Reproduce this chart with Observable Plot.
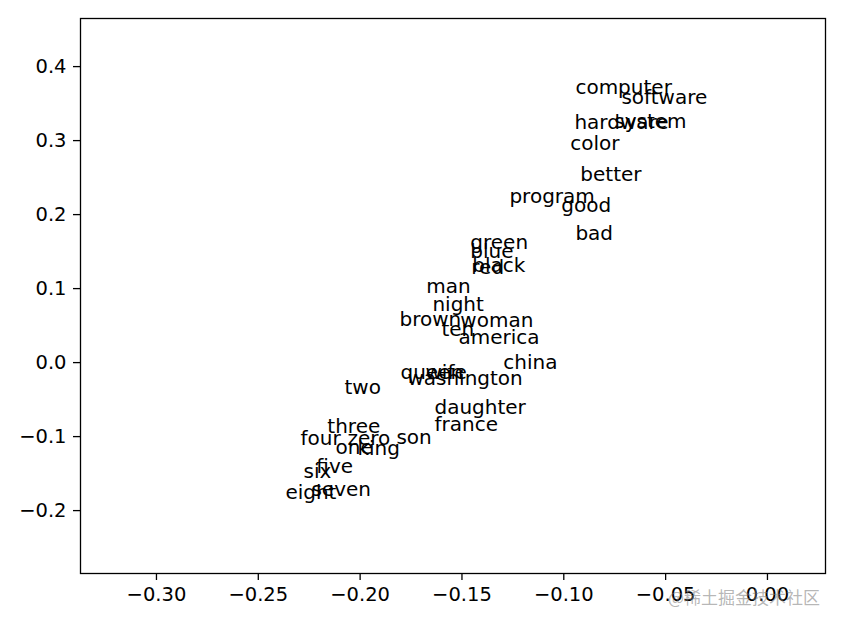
<!DOCTYPE html>
<html>
<head>
<meta charset="utf-8">
<script src="https://cdn.jsdelivr.net/npm/d3@7"></script>
<script src="https://cdn.jsdelivr.net/npm/@observablehq/plot@0.6"></script>
<style>
  body { margin: 0; background: #fff; }
  #wrap { position: relative; width: 843px; height: 624px; background: #fff; }
  #wm { position: absolute; left: 668px; top: 584px; font-family: "Noto Sans CJK SC", sans-serif; font-size: 17px; color: rgba(120,120,120,0.55); white-space: nowrap; }
</style>
</head>
<body>
<div id="wrap"><div id="wm">@稀土掘金技术社区</div></div>
<script>
const words = ["computer","software","hardware","system","color","better","program","good","bad",
  "green","blue","black","red","man","night","brown","woman","ten","america","china",
  "queen","wife","washington","two","daughter","france","three","four","zero","son",
  "one","king","five","six","seven","eight"];
const xs = [-0.0943,-0.0717,-0.0948,-0.0752,-0.0968,-0.0919,-0.1267,-0.1012,-0.0943,
  -0.1459,-0.1459,-0.1449,-0.1454,-0.1675,-0.1645,-0.1807,-0.1508,-0.1601,-0.1517,-0.1297,
  -0.1802,-0.1679,-0.1768,-0.2077,-0.1635,-0.1635,-0.2161,-0.2293,-0.2062,-0.1822,
  -0.2121,-0.2013,-0.2215,-0.2278,-0.2239,-0.2367];
const ys = [0.3608,0.3473,0.3135,0.3149,0.2851,0.2432,0.2135,0.2014,0.1635,
  0.1514,0.1392,0.1203,0.1176,0.0919,0.0676,0.0473,0.0459,0.0338,0.0230,-0.0108,
  -0.0243,-0.0243,-0.0324,-0.0446,-0.0716,-0.0946,-0.0973,-0.1135,-0.1135,-0.1122,
  -0.1257,-0.1270,-0.1514,-0.1581,-0.1824,-0.1865];
const xTicks = [-0.30,-0.25,-0.20,-0.15,-0.10,-0.05,0.00];
const yTicks = [-0.2,-0.1,0.0,0.1,0.2,0.3,0.4];
const xDomain = [-0.3373, 0.0285];
const yDomain = [-0.285, 0.465];

const data = words.map((w, i) => ({word: w, x: xs[i], y: ys[i]}));

const chart = Plot.plot({
  width: 843,
  height: 624,
  marginLeft: 80,
  marginRight: 18,
  marginTop: 18,
  marginBottom: 51,
  style: {fontFamily: "DejaVu Sans", fontSize: "19.5px", color: "#000", background: "#fff"},
  x: {domain: xDomain, label: null},
  y: {domain: yDomain, label: null},
  marks: [
    Plot.frame({stroke: "#000", strokeWidth: 1.3}),
    Plot.axisX({ticks: xTicks, tickFormat: d3.format(".2f"), tickSize: 7, tickPadding: 7, strokeWidth: 1.3, label: null, fontSize: 19.5}),
    Plot.axisY({ticks: yTicks, tickFormat: d3.format(".1f"), tickSize: 7, tickPadding: 7, strokeWidth: 1.3, label: null, fontSize: 19.5}),
    Plot.text(data, {x: "x", y: "y", text: "word", textAnchor: "start", lineAnchor: "bottom", dy: -2, fontSize: 20, fill: "#000"})
  ]
});
document.getElementById("wrap").prepend(chart);
</script>
</body>
</html>
